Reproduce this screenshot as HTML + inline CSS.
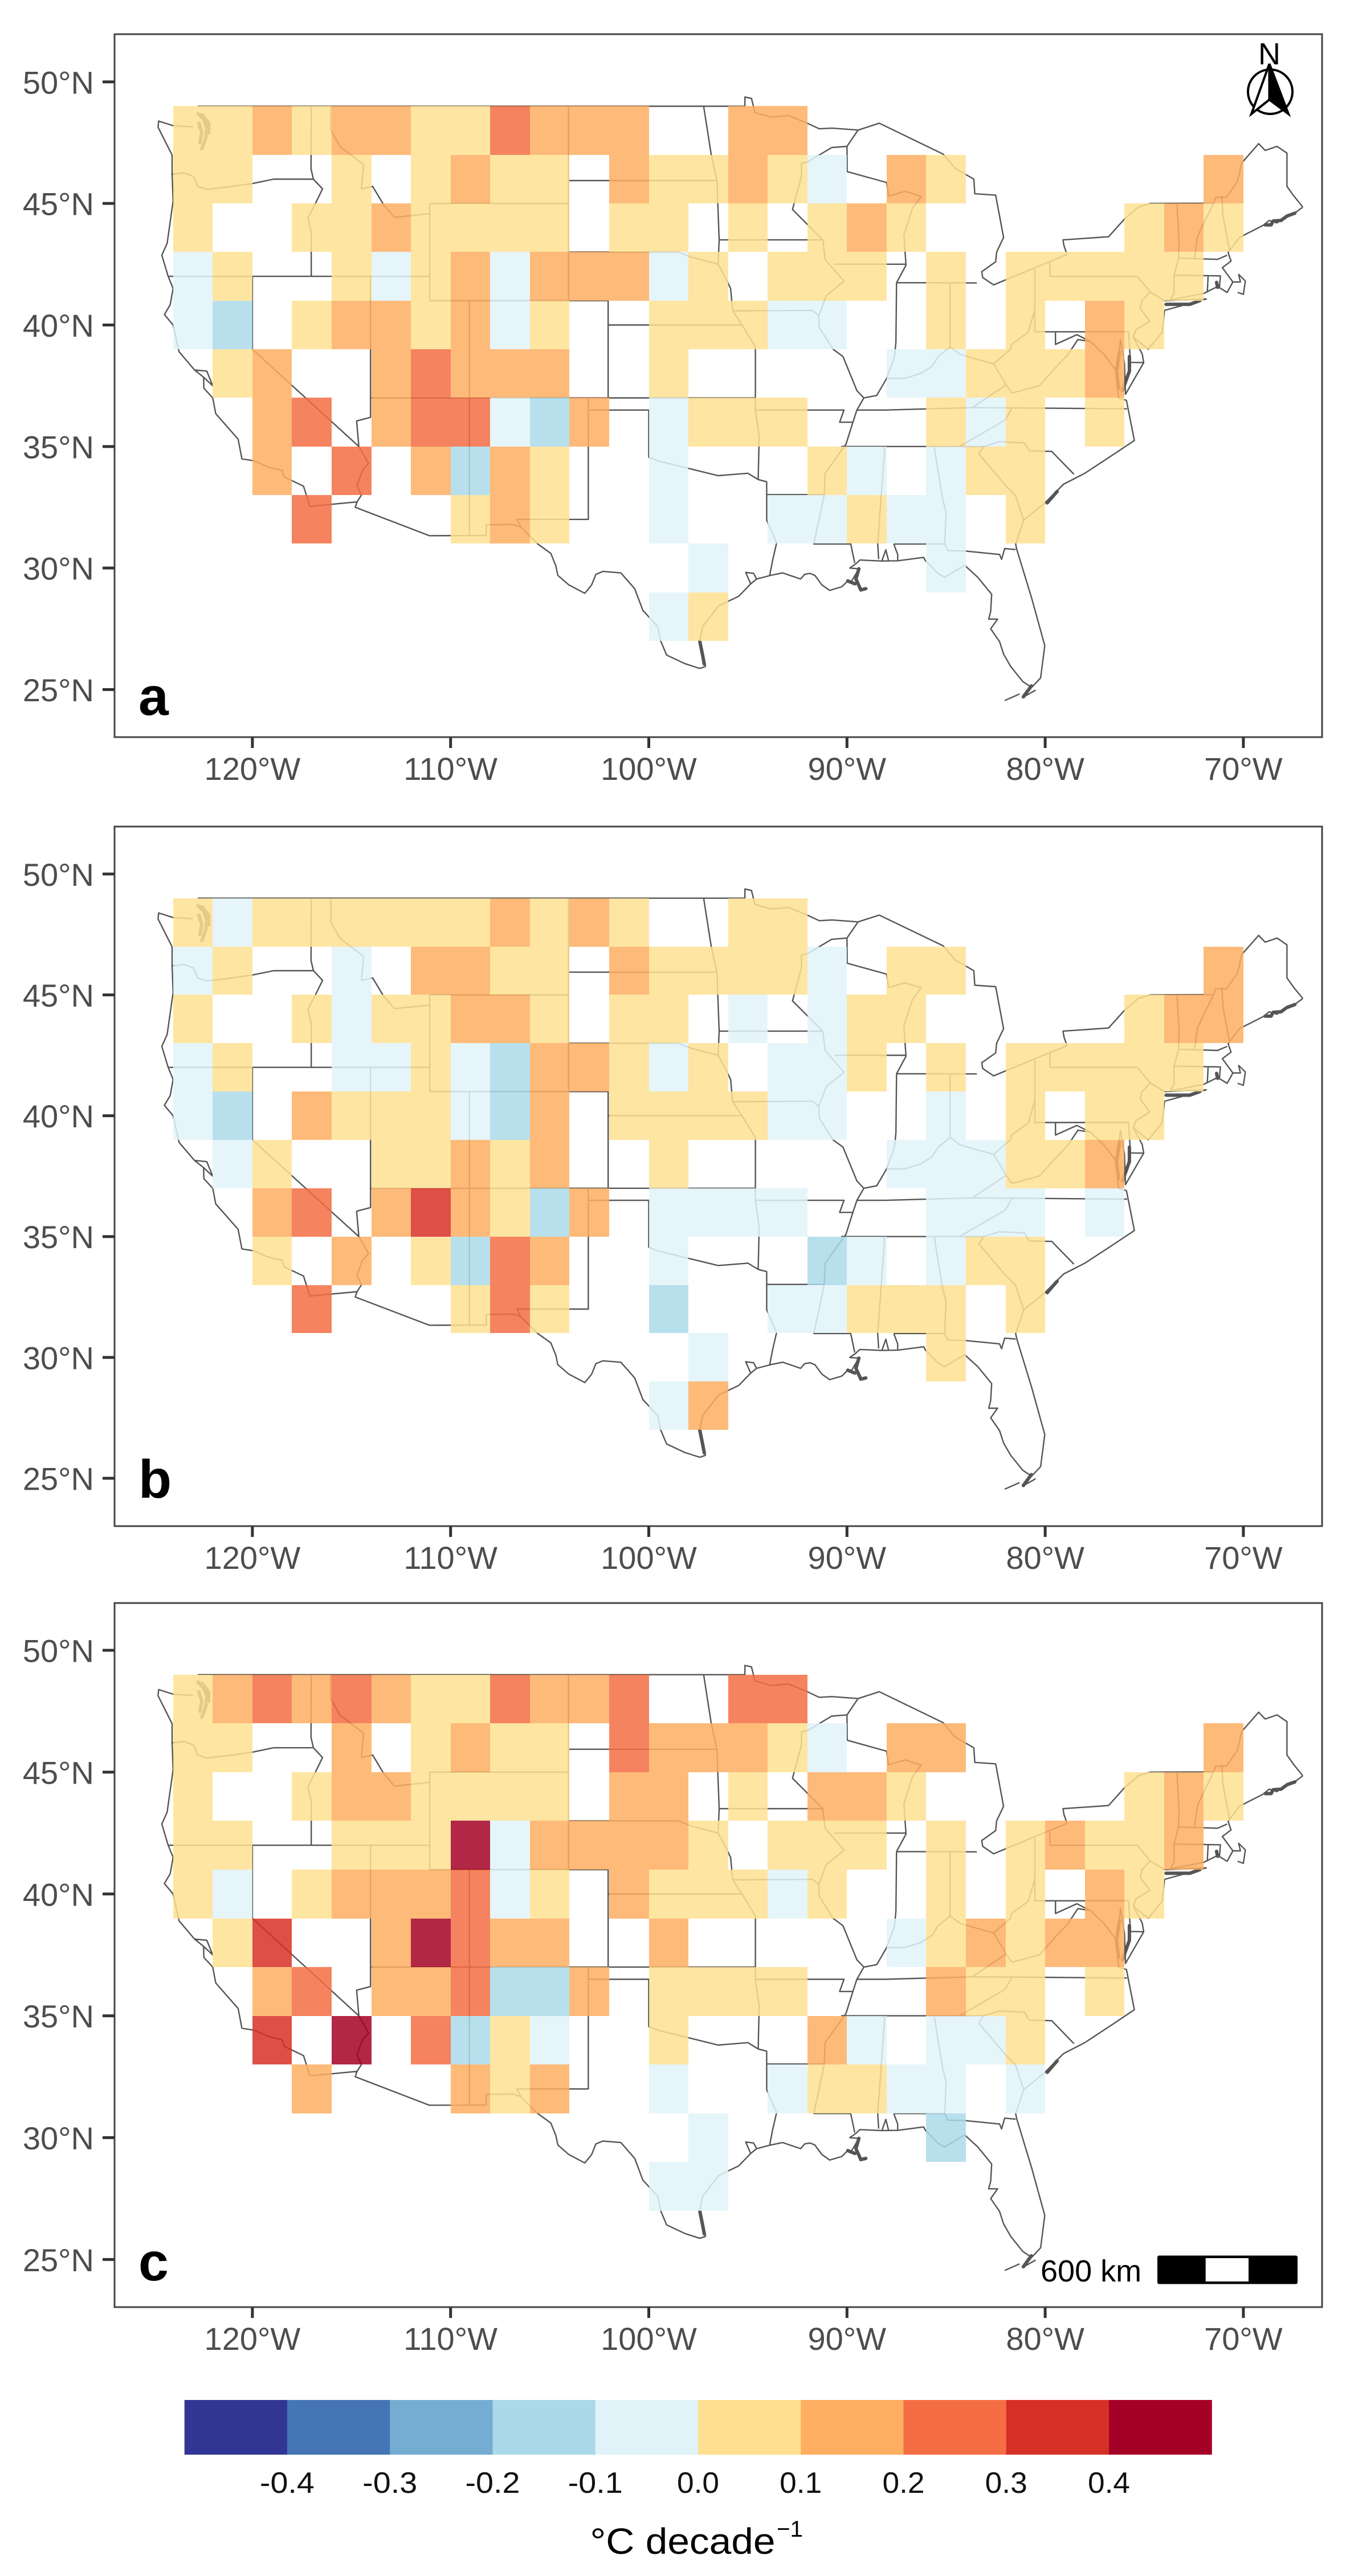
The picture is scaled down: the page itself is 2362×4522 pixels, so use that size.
<!DOCTYPE html>
<html lang="en">
<head>
<meta charset="utf-8">
<title>Temperature trends over the contiguous United States</title>
<style>
html,body{margin:0;padding:0;background:#fff;}
svg{display:block;font-family:"Liberation Sans",sans-serif;}
</style>
</head>
<body>
<svg id="figure" xmlns="http://www.w3.org/2000/svg" width="2362" height="4522" viewBox="0 0 2362 4522">
  <rect x="0" y="0" width="2362" height="4522" fill="#fff"/>
  <g id="panels"></g>
  <g id="legend"></g>

  <text x="243" y="1255" font-size="95" font-weight="bold" fill="#000">a</text>
  <text x="243" y="2629" font-size="95" font-weight="bold" fill="#000">b</text>
  <text x="243" y="4003" font-size="95" font-weight="bold" fill="#000">c</text>

  <g>
    <text x="2227.5" y="113" font-size="54" text-anchor="middle" textLength="39" lengthAdjust="spacingAndGlyphs" fill="#000">N</text>
    <circle cx="2229" cy="161" r="39" fill="none" stroke="#000" stroke-width="4"/>
    <path d="M2227.5 112 L2196 200 L2227.5 175 Z" fill="#fff" stroke="#000" stroke-width="4" stroke-linejoin="miter"/>
    <path d="M2227.5 112 L2261 200 L2227.5 175 Z" fill="#000" stroke="#000" stroke-width="4" stroke-linejoin="miter"/>
  </g>

  <g>
    <text x="1826" y="4005" font-size="54" fill="#000">600 km</text>
    <rect x="2031" y="3959.5" width="246" height="50" rx="3" fill="#000"/>
    <rect x="2115.7" y="3964" width="75.3" height="41" fill="#fff"/>
  </g>

  <g>
    <text x="1035.5" y="4483" font-size="64" textLength="325" lengthAdjust="spacingAndGlyphs" fill="#000">°C decade</text>
    <text x="1363" y="4453" font-size="40" textLength="46" lengthAdjust="spacingAndGlyphs" fill="#000">−1</text>
  </g>
</svg>
<script>
/* ---------- axis ticks ---------- */
const lonTicks = [-120, -110, -100, -90, -80, -70];
const lonLabels = ['120°W', '110°W', '100°W', '90°W', '80°W', '70°W'];
const latTicks = [50, 45, 40, 35, 30, 25];
const latLabels = ['50°N', '45°N', '40°N', '35°N', '30°N', '25°N'];

/* ---------- grid cell categories ---------- */
const cellWest = [-124, -122, -120, -118, -116, -114, -112, -110, -108, -106, -104, -102, -100, -98, -96, -94, -92, -90, -88, -86, -84, -82, -80, -78, -76, -74, -72];
const cellNorth = [49, 47, 45, 43, 41, 39, 37, 35, 33, 31, 29];

/* ---------- legend ---------- */
const legendBreaks = [-0.4, -0.3, -0.2, -0.1, 0, 0.1, 0.2, 0.3, 0.4];
const legendLabels = ['-0.4', '-0.3', '-0.2', '-0.1', '0.0', '0.1', '0.2', '0.3', '0.4'];
const legendColors = ['#313695', '#4575b4', '#74add1', '#abd9e9', '#e0f3f8', '#fee090', '#fdae61', '#f46d43', '#d73027', '#a50026'];

/* ---------- trend values (°C per decade) per row ---------- */
const panelAValues = [
[.05,.05,.15,.05,.15,.15,.05,.05,.25,.15,.15,.15,null,null,.15,.15,null,null,null,null,null,null,null,null,null,null,null],
[.05,.05,null,null,.05,null,.05,.15,.05,.05,null,.15,.05,.05,.15,.05,-.05,null,.15,.05,null,null,null,null,null,null,.15],
[.05,null,null,.05,.05,.15,.05,.05,.05,.05,null,.05,.05,null,.05,null,.05,.15,.05,null,null,null,null,null,.05,.15,.05],
[-.05,.05,null,null,.05,-.05,.05,.15,-.05,.15,.15,.15,-.05,.05,null,.05,.05,.05,null,.05,null,.05,.05,.05,.05,.05,null],
[-.05,-.15,null,.05,.15,.15,.05,.15,-.05,.05,null,null,.05,.05,.05,-.05,-.05,null,null,.05,null,.05,null,.15,.05,null,null],
[null,.05,.15,null,null,.15,.25,.15,.15,.15,null,null,.05,null,null,null,null,null,-.05,-.05,.05,.05,.05,.15,null,null,null],
[null,null,.15,.25,null,.15,.25,.25,-.05,-.15,.15,null,-.05,.05,.05,.05,null,null,null,.05,-.05,.05,null,.05,null,null,null],
[null,null,.15,null,.25,null,.15,-.15,.15,.05,null,null,-.05,null,null,null,.05,-.05,null,-.05,.05,.05,null,null,null,null,null],
[null,null,null,.25,null,null,null,.05,.15,.05,null,null,-.05,null,null,-.05,-.05,.05,-.05,-.05,null,.05,null,null,null,null,null],
[null,null,null,null,null,null,null,null,null,null,null,null,null,-.05,null,null,null,null,null,-.05,null,null,null,null,null,null,null],
[null,null,null,null,null,null,null,null,null,null,null,null,-.05,.05,null,null,null,null,null,null,null,null,null,null,null,null,null]
];
const panelBValues = [
[.05,-.05,.05,.05,.05,.05,.05,.05,.15,.05,.15,.05,null,null,.05,.05,null,null,null,null,null,null,null,null,null,null,null],
[-.05,.05,null,null,-.05,null,.15,.15,.05,.05,null,.15,.05,.05,.05,.05,-.05,null,.05,.05,null,null,null,null,null,null,.15],
[.05,null,null,.05,-.05,.05,.05,.15,.15,.05,null,.05,.05,null,-.05,null,-.05,.05,.05,null,null,null,null,null,.05,.15,.15],
[-.05,.05,null,null,-.05,-.05,.05,-.05,-.15,.15,.15,.05,-.05,.05,null,-.05,-.05,.05,null,.05,null,.05,.05,.05,.05,.05,null],
[-.05,-.15,null,.15,.05,.05,.05,-.05,-.15,.15,null,.05,.05,.05,.05,-.05,-.05,null,null,-.05,null,.05,null,.05,.05,null,null],
[null,-.05,.05,null,null,.05,.05,.15,.05,.15,null,null,.05,null,null,null,null,null,-.05,-.05,-.05,.05,.05,.15,null,null,null],
[null,null,.15,.25,null,.15,.35,.15,.05,-.15,.15,null,-.05,-.05,-.05,-.05,null,null,null,-.05,-.05,-.05,null,-.05,null,null,null],
[null,null,.05,null,.15,null,.05,-.15,.25,.15,null,null,-.05,null,null,null,-.15,-.05,null,-.05,.05,.05,null,null,null,null,null],
[null,null,null,.25,null,null,null,.05,.25,.05,null,null,-.15,null,null,-.05,-.05,.05,.05,.05,null,.05,null,null,null,null,null],
[null,null,null,null,null,null,null,null,null,null,null,null,null,-.05,null,null,null,null,null,.05,null,null,null,null,null,null,null],
[null,null,null,null,null,null,null,null,null,null,null,null,-.05,.15,null,null,null,null,null,null,null,null,null,null,null,null,null]
];
const panelCValues = [
[.05,.15,.25,.15,.25,.15,.05,.05,.25,.15,.15,.25,null,null,.25,.25,null,null,null,null,null,null,null,null,null,null,null],
[.05,.05,null,null,.15,null,.05,.15,.05,.05,null,.25,.15,.15,.15,.05,-.05,null,.15,.15,null,null,null,null,null,null,.15],
[.05,null,null,.05,.15,.15,.05,.05,.05,.05,null,.15,.15,null,.05,null,.15,.15,.05,null,null,null,null,null,.05,.15,.05],
[.05,.05,null,null,.05,.05,.05,.45,-.05,.15,.15,.15,.15,.05,null,.05,.05,.05,null,.05,null,.05,.15,.05,.05,.15,null],
[.05,-.05,null,.05,.15,.15,.15,.25,-.05,.05,null,.15,.05,.05,.05,-.05,.05,null,null,.05,null,.05,null,.15,.05,null,null],
[null,.05,.35,null,null,.15,.45,.25,.15,.15,null,null,.15,null,null,null,null,null,-.05,.05,.15,.05,.15,.15,null,null,null],
[null,null,.15,.25,null,.15,.15,.25,-.15,-.15,.15,null,.05,.05,.05,.05,null,null,null,.15,.05,.05,null,.05,null,null,null],
[null,null,.35,null,.45,null,.25,-.15,.05,-.05,null,null,.05,null,null,null,.15,-.05,null,-.05,-.05,.05,null,null,null,null,null],
[null,null,null,.15,null,null,null,.15,.05,.15,null,null,-.05,null,null,-.05,.05,.05,-.05,-.05,null,-.05,null,null,null,null,null],
[null,null,null,null,null,null,null,null,null,null,null,null,null,-.05,null,null,null,null,null,-.15,null,null,null,null,null,null,null],
[null,null,null,null,null,null,null,null,null,null,null,null,-.05,-.05,null,null,null,null,null,null,null,null,null,null,null,null,null]
];

/* ---------- basemap polylines, flat lon,lat pairs ---------- */
const basemapLines = [
/* northern border and Great Lakes water boundary */
[-122.76,49,-95.15,49,-95.15,49.38,-94.82,49.32,-94.64,48.74,-93.8,48.55,-92.95,48.62,-92,48.3,-91.4,48.07,-90.75,48.1,-89.44,48.02,-88.37,48.3,-85.15,47.03,-84.55,46.45,-83.6,46,-83.55,45.4,-82.5,45.34,-82.1,43.6,-82.45,43,-82.5,42.6,-83.1,42.25,-83.2,42.2,-83.15,41.95,-82.6,41.65,-82.07,41.83,-78.9,42.9,-79.05,43.26,-79.1,43.5,-76.8,43.63,-76.02,44.34,-75.3,44.85,-74.7,45,-71.5,45.01,-71.4,45.25,-70.85,45.25,-70.3,45.9,-70.08,46.67,-69.23,47.46,-68.9,47.18,-68.3,47.35,-67.8,47.07,-67.8,45.7,-67.45,45.3,-67,44.85],
/* Pacific coast */
[-123,48.15,-124,48.2,-124.73,48.39,-124.76,48.14,-124.05,46.99,-124.05,46.2,-124,45.1,-124.3,43.36,-124.57,42.87,-124.25,42,-124,41.5,-124.15,40.83,-124.44,40.43,-124,40,-123.7,38.9,-122.92,38.15,-122.46,37.85,-122.45,37.4,-122,37,-121.85,36.35,-120.72,35.3,-120.53,34.49,-119.9,34.41,-119.2,34.15,-118.5,34.02,-118.4,33.75,-117.42,33.37,-117.1,32.54],
/* San Francisco Bay */
[-122.46,37.85,-122,37.5,-122.3,38.1,-122.92,38.15],
/* Mexican border */
[-117.1,32.54,-114.72,32.72,-114.81,32.5,-111.07,31.33,-108.2,31.34,-108.2,31.78,-106.86,31.79,-106.46,31.69,-105.6,30.99,-104.94,30.6,-104.69,30.09,-104.59,29.7,-104.04,29.31,-103.23,28.96,-102.88,29.31,-102.67,29.74,-102.32,29.86,-101.41,29.8,-100.71,29.15,-100.3,28.26,-99.55,27.59,-99.4,27,-99.1,26.42,-98.19,26.07,-97.43,25.87,-97.13,25.95],
/* Gulf coast */
[-97.13,25.95,-97.43,27,-97.28,27.6,-96.47,28.45,-95.46,28.84,-94.86,29.35,-94.56,29.55,-93.85,29.7,-93.25,29.8,-92.34,29.55,-92.14,29.74,-91.87,29.78,-91.62,29.7,-91.27,29.31,-90.87,29.08,-90.26,29.23,-89.96,29.47,-89.76,29.47,-89.4,29.97,-89.86,30,-89.56,30.17,-89.35,30.33,-88.24,30.29,-87.44,30.3,-86.13,30.44,-86.05,30.31,-85.42,29.78,-85.07,29.62,-84.41,29.94,-84.06,30.11,-83.4,29.62,-82.7,28.92,-82.75,28.22,-82.85,27.9,-82.4,27.9,-82.75,27.5,-82.3,26.97,-82.1,26.46,-81.74,25.95,-81.13,25.33,-80.68,25.09,-80.23,25.48,-80.02,26.81,-80.68,28.76,-81.44,30.79,-81.49,30.99,-81.08,31.97,-80.03,32.67,-79.07,33.45,-78,33.9,-76.6,34.65,-75.5,35.25,-75.9,36.9,-76.3,37,-76.4,38,-76.2,39.4,-76,38.4,-75.95,37.15,-75.03,38.45,-75.1,38.8,-75.55,39.5,-74.8,39,-74.1,39.7,-74.03,40.17,-73.98,40.6],
/* Galveston Bay and Mobile Bay */
[-94.86,29.35,-95.11,29.82,-94.71,29.78,-94.56,29.55],
[-88.24,30.29,-88.04,30.75,-87.9,30.3],
/* Florida Keys */
[-82.04,24.55,-81.29,24.82],
[-81.08,24.7,-80.48,24.98],
/* Long Island and New England coast */
[-73.98,40.6,-71.87,41.07,-73.98,41],
[-73.69,41.03,-72,41.3,-71.3,41.58,-70.82,41.34,-70.53,41.77,-70.15,41.77,-70.24,42.08,-69.9,41.81,-70,41.26,-70.29,41.34],
[-70.53,41.77,-71.06,42.36,-70.62,42.63,-70.77,42.98,-70.2,43.6,-69,44.1,-68.7,44.3,-68.3,44.2,-68,44.4,-67.5,44.55,-67,44.85],
/* western state lines */
[-124.05,46.2,-123.44,46.26,-122.95,46.1,-122.76,45.7,-122.3,45.58,-121.2,45.68,-120,45.82,-118.93,46,-116.92,46],
[-117.03,49,-117.04,46.42,-116.92,46,-116.46,45.6,-116.85,44.95,-117.2,44.4,-117.03,43.8,-117.03,42],
[-124.25,42,-111.05,42],
[-120,42,-120,39,-114.63,35],
[-114.04,42,-114.04,36.2,-114.74,36.05,-114.63,35,-114.14,34.3,-114.45,34,-114.72,33.4,-114.5,33,-114.72,32.72],
[-114.04,37,-94.62,37],
[-109.05,41,-109.05,31.33],
[-116.04,49,-116.04,48,-115.58,47.34,-114.39,46.6,-114.5,45.6,-113.93,45.7,-113.38,44.95,-112.83,44.43,-111.05,44.58],
[-111.05,45,-104.05,45],
[-111.05,45,-111.05,41,-102.05,41,-102.05,37],
[-104.05,49,-104.05,41],
[-104.05,45.94,-96.56,45.94],
[-104.05,43,-98.5,43,-97.9,42.8,-96.5,42.5],
[-102.05,40,-95.3,40],
[-103.05,37,-103.05,32,-106.66,32,-106.46,31.69],
[-103.05,36.5,-100,36.5,-100,34.56,-99.5,34.4,-98,34.1,-96.5,33.8,-95,33.9,-94.48,33.64,-94.05,33.55,-94.05,31.97,-93.55,31.03,-93.75,30.33,-93.9,29.7],
/* central state lines */
[-94.48,33.64,-94.43,35.4,-94.62,36.5,-94.62,39.1,-95.3,40,-95.77,40.6,-95.87,41.5,-96.1,41.9,-96.5,42.5,-96.45,43.5,-96.56,45.94,-96.85,47,-97.23,49],
[-95.77,40.58,-91.73,40.6,-91.42,40.38],
[-96.45,43.5,-91.22,43.5],
[-92,46.7,-92.29,46.66,-92.3,46.1,-92.75,44.75,-91.22,43.5,-91.1,42.7,-90.15,41.8,-91.05,41.2,-91.42,40.38,-91.4,39.9,-90.7,39,-90.2,38.7,-89.5,37.3,-89.15,37,-89.5,36.5,-89.7,36,-90.05,35.1,-91.1,33.9,-91.15,33,-91.67,30.99,-89.81,30.99,-89.61,30.21],
[-94.62,36.5,-90.15,36.5,-90.37,36,-89.7,36],
[-94.05,33.02,-91.15,33.02],
[-90.64,42.5,-87,42.5],
[-87.5,41.74,-87.53,39.3,-87.6,38.7,-88,37.8],
[-89.15,37,-88.5,37.1,-88,37.8,-87.1,37.8,-86.3,38,-85.7,38.3,-85.4,38.7,-84.8,39.1,-84.3,38.8,-83.7,38.65,-82.6,38.4,-81.75,39,-81.7,39.2,-80.85,39.7,-80.52,40.64],
[-84.8,39.1,-84.8,41.74],
[-87.5,41.74,-83.45,41.73],
/* Lake boundaries */
[-92,46.7,-90.77,47.3,-90,47.35],
[-89.44,48.02,-90,47.35,-89.99,46.31,-88,45.86,-87.9,45.3,-87.07,45.5,-86.25,45.29,-86.7,44.8,-87.13,43.7,-87.02,42.46,-87.5,41.74],
/* eastern state lines */
[-80.52,42.3,-80.52,39.72,-75.79,39.72,-75.7,38.46,-75.03,38.45],
[-79.48,39.72,-79.48,39.2,-78.4,39.6,-77.72,39.32,-77.04,38.8,-76.3,38],
[-77.72,39.32,-78.35,39.4,-78.87,38.76,-79.3,38.4,-80.3,37.5,-81.68,37.2,-81.97,37.54,-82.6,38.4],
[-81.97,37.54,-83.68,36.6],
[-75.87,36.55,-81.68,36.59,-83.68,36.6,-88.07,36.5,-89.5,36.5],
[-90.3,35,-84.32,35,-82,36.1,-81.68,36.59],
[-84.32,35,-83.1,35,-82.3,35.2,-81.05,35.15,-80.8,34.82,-79.67,34.8,-78.55,33.86],
[-83.1,35,-83.35,34.7,-82,33.4,-81.5,33,-81.08,31.97],
[-85.6,35,-85.18,32.87,-85,32.3,-85.07,30.99,-84.92,30.72,-84.03,30.7,-82.3,30.56,-82.2,30.36,-82.04,30.8,-81.49,30.76],
[-87.64,30.99,-85.07,30.99],
[-87.64,30.99,-87.44,30.56,-87.44,30.3],
[-88.2,35,-88.1,34.9,-88.45,30.99,-88.4,30.37],
[-79.76,42.6,-79.76,42,-75.35,42,-74.7,41.36,-75.13,40.98,-75.2,40.68,-74.72,40.15,-75.42,39.8,-75.55,39.5],
[-74.7,41.36,-73.98,41],
[-73.69,41.03,-73.5,41.3,-73.5,42.05,-73.27,42.75,-73.25,43.55,-73.35,45],
[-72.46,42.73,-72.33,43.6,-72.05,44.1,-71.5,45],
[-73.5,42.05,-71.16,42.02,-71.21,41.5],
[-71.78,42,-71.82,41.34],
[-73.27,42.75,-71.3,42.7,-70.82,42.87],
[-70.7,43.07,-71.03,44.5,-71.08,45.3]
];
/* dense coastal inlets and islands, drawn as heavier strokes */
const basemapHeavyLines = [
[-122.75,48.7,-122.45,48.45,-122.3,48.1,-122.35,47.7,-122.55,47.25],
[-122.55,48.65,-122.2,48.3,-122.2,47.9],
[-122.7,48.3,-122.55,47.9,-122.65,47.5],
[-97.43,27,-97.28,26.4,-97.2,26.05],
[-89.4,29.97,-89.55,29.55,-89.3,29.1,-89.05,29.15],
[-89.96,29.47,-89.6,29.35],
[-68.9,44.12,-68.6,44.12,-68.5,44.28,-68.1,44.3,-67.8,44.48,-67.4,44.6],
[-71.35,41.75,-71.3,41.55],
[-73.9,40.85,-72.7,40.85,-72.2,41],
[-81.1,24.7,-80.7,25.15],
[-76.1,37.3,-75.75,38.1,-75.75,38.7],
[-76.25,38.9,-76.4,38.1,-76.3,37.4],
[-79.9,32.68,-79.4,33.15]
];

/* ---------- rendering ---------- */
const SVG_NS = 'http://www.w3.org/2000/svg';
const cellAlpha = 0.85;
const cellSpan = 2;

function lonScale(lon) {
  return 442.9 + (lon + 120) * 34.78;
}

function makeLatScale(frame) {
  return function (lat) {
    return frame.y50 + (50 - lat) * (frame.y25 - frame.y50) / 25;
  };
}

function legendScale(v) {
  return 323.7 + (v + 0.5) * 1802.5;
}

function binColor(v) {
  let i = 0;
  while (i < legendBreaks.length && v >= legendBreaks[i]) i++;
  return legendColors[i];
}

function svgEl(tag, parent) {
  const el = document.createElementNS(SVG_NS, tag);
  parent.appendChild(el);
  return el;
}

function mapPathData(lines, latScale) {
  return lines.map(function (line) {
    let d = '';
    for (let i = 0; i < line.length; i += 2) {
      d += (i ? 'L' : 'M') + lonScale(line[i]).toFixed(1) + ' ' + latScale(line[i + 1]).toFixed(1);
    }
    return d;
  }).join('');
}

function drawPanel(id, values, frame) {
  const latScale = makeLatScale(frame);
  const root = document.getElementById('panels');
  const g = svgEl('g', root);
  
  

  const map = svgEl('path', g);
  
  
  map.setAttribute('d', mapPathData(basemapLines, latScale));
  map.setAttribute('fill', 'none');
  map.setAttribute('stroke', '#555');
  map.setAttribute('stroke-width', '2.4');
  map.setAttribute('stroke-linejoin', 'round');

  const heavy = svgEl('path', g);
  
  
  heavy.setAttribute('d', mapPathData(basemapHeavyLines, latScale));
  heavy.setAttribute('fill', 'none');
  heavy.setAttribute('stroke', '#555');
  heavy.setAttribute('stroke-width', '6');
  heavy.setAttribute('stroke-linejoin', 'round');
  heavy.setAttribute('stroke-linecap', 'round');

  values.forEach(function (row, r) {
    row.forEach(function (v, c) {
      if (v === null) return;
      const x0 = lonScale(cellWest[c]);
      const x1 = lonScale(cellWest[c] + cellSpan);
      const y0 = latScale(cellNorth[r]);
      const y1 = latScale(cellNorth[r] - cellSpan);
      const cell = svgEl('rect', g);
      
      
      cell.setAttribute('x', Math.round(x0));
      cell.setAttribute('y', Math.round(y0));
      cell.setAttribute('width', Math.round(x1) - Math.round(x0));
      cell.setAttribute('height', Math.round(y1) - Math.round(y0));
      cell.setAttribute('fill', binColor(v));
      cell.setAttribute('fill-opacity', cellAlpha);
    });
  });

  const box = svgEl('rect', g);
  
  
  box.setAttribute('x', 201);
  box.setAttribute('y', frame.top);
  box.setAttribute('width', 2119);
  box.setAttribute('height', frame.bottom - frame.top);
  box.setAttribute('fill', 'none');
  box.setAttribute('stroke', '#444');
  box.setAttribute('stroke-width', '3');

  lonTicks.forEach(function (lon, i) {
    const tick = svgEl('line', g);
    
    
    tick.setAttribute('x1', lonScale(lon));
    tick.setAttribute('x2', lonScale(lon));
    tick.setAttribute('y1', frame.bottom);
    tick.setAttribute('y2', frame.bottom + 19);
    tick.setAttribute('stroke', '#333');
    tick.setAttribute('stroke-width', '5');
    const label = svgEl('text', g);
    
    
    label.setAttribute('x', lonScale(lon));
    label.setAttribute('y', frame.bottom + 75);
    label.setAttribute('font-size', '56');
    label.setAttribute('text-anchor', 'middle');
    label.setAttribute('fill', '#4d4d4d');
    label.textContent = lonLabels[i];
  });

  latTicks.forEach(function (lat, i) {
    const tick = svgEl('line', g);
    
    
    tick.setAttribute('x1', 180);
    tick.setAttribute('x2', 201);
    tick.setAttribute('y1', latScale(lat));
    tick.setAttribute('y2', latScale(lat));
    tick.setAttribute('stroke', '#333');
    tick.setAttribute('stroke-width', '5');
    const label = svgEl('text', g);
    
    
    label.setAttribute('x', 165);
    label.setAttribute('y', latScale(lat) + 20.5);
    label.setAttribute('font-size', '56');
    label.setAttribute('text-anchor', 'end');
    label.setAttribute('fill', '#4d4d4d');
    label.textContent = latLabels[i];
  });
}

function drawLegend() {
  const g = document.getElementById('legend');
  legendColors.forEach(function (color, i) {
    const swatch = svgEl('rect', g);
    
    
    swatch.setAttribute('x', legendScale(-0.5 + i * 0.1).toFixed(1));
    swatch.setAttribute('y', 4213);
    swatch.setAttribute('width', (legendScale(0.1) - legendScale(0) + 0.5).toFixed(1));
    swatch.setAttribute('height', 96);
    swatch.setAttribute('fill', color);
  });
  legendBreaks.forEach(function (v, i) {
    const label = svgEl('text', g);
    
    
    label.setAttribute('x', legendScale(v).toFixed(1));
    label.setAttribute('y', 4376);
    label.setAttribute('font-size', '52');
    label.setAttribute('text-anchor', 'middle');
    label.setAttribute('fill', '#111');
    label.setAttribute('textLength', legendLabels[i].length > 3 ? 96 : 74);
    label.setAttribute('lengthAdjust', 'spacingAndGlyphs');
    label.textContent = legendLabels[i];
  });
}

drawPanel('a', panelAValues, { top: 60, bottom: 1294, y50: 143.8, y25: 1210.5 });
drawPanel('b', panelBValues, { top: 1451, bottom: 2679, y50: 1534.3, y25: 2595 });
drawPanel('c', panelCValues, { top: 2814, bottom: 4050, y50: 2897, y25: 3966.4 });
drawLegend();
</script>
</body>
</html>
